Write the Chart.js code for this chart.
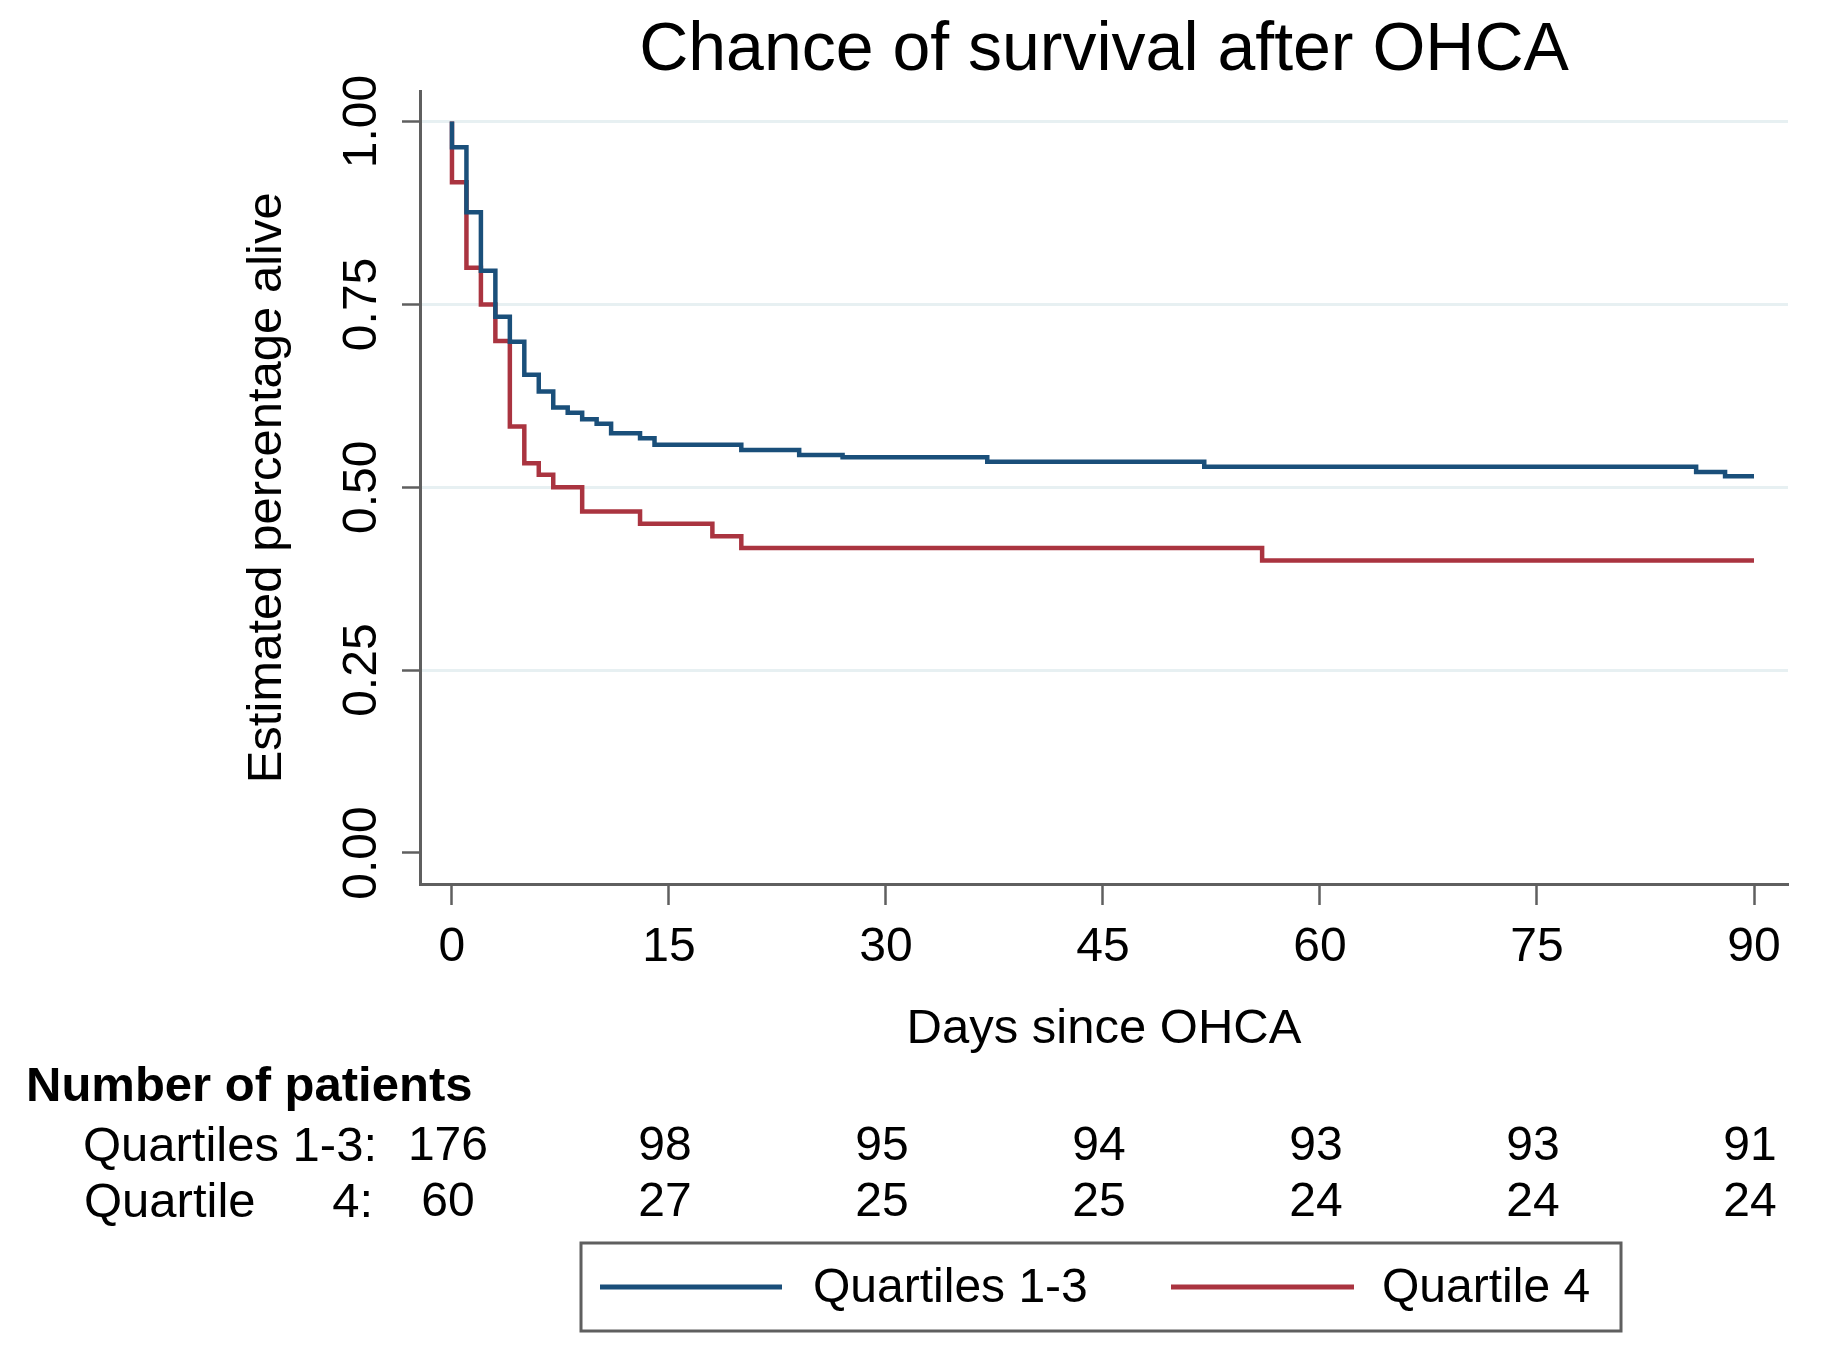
<!DOCTYPE html>
<html>
<head>
<meta charset="utf-8">
<script src="https://cdn.jsdelivr.net/npm/chart.js@4/dist/chart.umd.min.js"></script>
<style>
  html, body { margin: 0; padding: 0; background: #ffffff; }
  #wrap { width: 1825px; height: 1372px; }
</style>
</head>
<body>
<div id="wrap"><canvas id="c" width="1825" height="1372"></canvas></div>
<script>
// ---- data ----
const seriesLabels = ["Quartiles 1-3", "Quartile 4"];
const q13Days = [0, 0, 1, 2, 3, 4, 5, 6, 7, 8, 9, 10, 11, 13, 14, 20, 24, 27, 37, 52, 86, 88, 90];
const q13Surv = [1, 0.965, 0.876, 0.796, 0.733, 0.699, 0.654, 0.631, 0.609, 0.602, 0.593, 0.587, 0.574, 0.567, 0.558, 0.551, 0.544, 0.541, 0.535, 0.528, 0.521, 0.515, 0.515];
const q4Days = [0, 0, 1, 2, 3, 4, 5, 6, 7, 9, 13, 18, 20, 56, 90];
const q4Surv = [1, 0.917, 0.8, 0.75, 0.7, 0.583, 0.533, 0.517, 0.5, 0.467, 0.45, 0.433, 0.417, 0.4, 0.4];
const xTicks = [0, 15, 30, 45, 60, 75, 90];
const yTicks = [0, 0.25, 0.5, 0.75, 1];
const riskQ13 = [176, 98, 95, 94, 93, 93, 91];
const riskQ4 = [60, 27, 25, 25, 24, 24, 24];

const FONT = "'Liberation Sans', Arial, Helvetica, sans-serif";
const BLUE = '#1a4f7a';
const RED = '#aa3440';
const AXIS = '#5f5f5f';

function pts(xs, ys) { return xs.map((x, i) => ({ x: x, y: ys[i] })); }

const riskTable = {
  id: 'riskTable',
  afterDraw(chart) {
    const ctx = chart.ctx;
    const xs = chart.scales.x;
    ctx.save();
    ctx.fillStyle = '#000';
    ctx.textBaseline = 'middle';
    ctx.font = 'bold 49px ' + FONT;
    ctx.textAlign = 'left';
    ctx.fillText('Number of patients', 26, 1087);
    ctx.font = '49px ' + FONT;
    ctx.textAlign = 'right';
    ctx.fillText('Quartiles 1-3:', 377, 1147);
    ctx.fillText('4:', 373, 1203);
    ctx.textAlign = 'left';
    ctx.fillText('Quartile', 84, 1203);
    ctx.font = '48px ' + FONT;
    ctx.textAlign = 'center';
    xTicks.forEach((t, i) => {
      const px = xs.getPixelForValue(t) - 4;
      ctx.fillText(String(riskQ13[i]), px, 1147);
      ctx.fillText(String(riskQ4[i]), px, 1203);
    });

    // legend box
    ctx.strokeStyle = AXIS;
    ctx.lineWidth = 3;
    ctx.strokeRect(581, 1243, 1040, 88);
    const items = [
      { x0: 600, x1: 782, tx: 813 },
      { x0: 1171, x1: 1354, tx: 1382 }
    ];
    chart.data.datasets.forEach((ds, i) => {
      const it = items[i];
      ctx.strokeStyle = ds.borderColor;
      ctx.lineWidth = 5;
      ctx.beginPath();
      ctx.moveTo(it.x0, 1287);
      ctx.lineTo(it.x1, 1287);
      ctx.stroke();
      ctx.fillStyle = '#000';
      ctx.textAlign = 'left';
      ctx.fillText(ds.label, it.tx, 1289);
    });
    ctx.restore();
  }
};

new Chart(document.getElementById('c'), {
  type: 'line',
  data: {
    datasets: [
      { label: seriesLabels[0], data: pts(q13Days, q13Surv), borderColor: BLUE, borderWidth: 4.5, stepped: 'before', pointRadius: 0, fill: false },
      { label: seriesLabels[1], data: pts(q4Days, q4Surv), borderColor: RED, borderWidth: 4.5, stepped: 'before', pointRadius: 0, fill: false }
    ]
  },
  options: {
    responsive: false,
    devicePixelRatio: 1,
    animation: false,
    layout: { padding: { left: 0, right: 37, top: 0, bottom: 308 } },
    plugins: {
      legend: { display: false },
      tooltip: { enabled: false },
      title: {
        display: true,
        text: 'Chance of survival after OHCA',
        fullSize: false,
        color: '#000',
        font: { family: FONT, size: 68, weight: 'normal' },
        padding: { top: 10, bottom: 0 }
      }
    },
    scales: {
      x: {
        type: 'linear',
        min: -2.21,
        max: 92.35,
        afterBuildTicks: (s) => { s.ticks = xTicks.map(v => ({ value: v })); },
        afterFit: (s) => { s.height = 180; },
        border: { color: AXIS, width: 3 },
        grid: { drawOnChartArea: false, drawTicks: true, tickLength: 21, tickColor: AXIS, tickWidth: 2.5 },
        ticks: { color: '#000', font: { family: FONT, size: 48 }, padding: 14, maxRotation: 0, autoSkip: false, callback: (v) => String(v) },
        title: { display: true, text: 'Days since OHCA', color: '#000', font: { family: FONT, size: 49 }, padding: { top: 0, bottom: 5 } }
      },
      y: {
        type: 'linear',
        min: -0.0424,
        max: 1.041,
        afterBuildTicks: (s) => { s.ticks = yTicks.map(v => ({ value: v })); },
        afterFit: (s) => { s.width = 420; },
        border: { color: AXIS, width: 3 },
        grid: {
          drawTicks: true,
          tickLength: 18,
          tickWidth: 2.5,
          tickColor: AXIS,
          lineWidth: 3,
          color: (c) => (c.tick && c.tick.value === 0) ? 'rgba(0,0,0,0)' : '#e7f0f2'
        },
        ticks: {
          color: '#000',
          font: { family: FONT, size: 48 },
          minRotation: 90,
          maxRotation: 90,
          crossAlign: 'center',
          padding: -7,
          autoSkip: false,
          callback: (v) => Number(v).toFixed(2)
        },
        title: { display: true, text: 'Estimated percentage alive', color: '#000', font: { family: FONT, size: 49 }, padding: { top: 238, bottom: 0 } }
      }
    }
  },
  plugins: [riskTable]
});
</script>
</body>
</html>
